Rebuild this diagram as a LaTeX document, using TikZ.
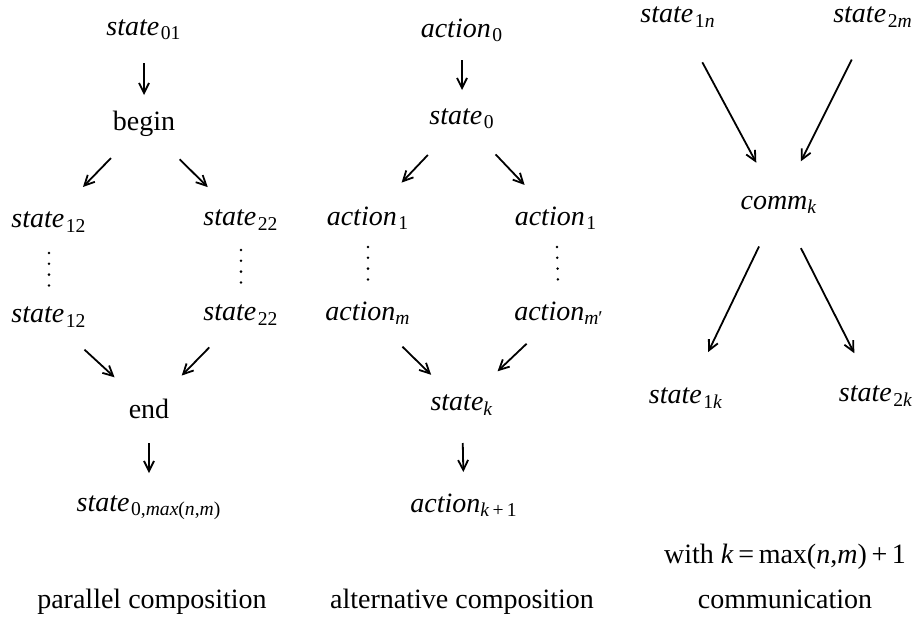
\documentclass[tikz,border=0pt]{standalone}
\usepackage{fontspec}
\setmainfont{Liberation Serif}
\usetikzlibrary{arrows.meta}
\tikzset{>={Straight Barb[length=5pt,width=5pt]}}
\newcommand{\STATE}[1]{\textit{state}\kern0.8pt\textsubscript{#1}}
\newcommand{\ACTION}[1]{\textit{action}\kern0.8pt\textsubscript{#1}}

\begin{document}
\begin{tikzpicture}[x=0.5pt,y=-0.5pt,
  lbl/.style={inner sep=0pt, font=\fontsize{14}{17}\selectfont},
  caption/.style={lbl, anchor=base},
  flow/.style={->, line width=0.9pt},
  vdots/.style={line width=1.4pt, line cap=round, dash pattern=on 0pt off 5.4pt}]
\useasboundingbox (0,0) rectangle (915,616);

% parallel composition
\node[lbl] (s01)   at (144, 30) {\STATE{01}};
\node[lbl] (begin) at (144,124) {begin};
\node[lbl] (s12a)  at ( 49,222) {\STATE{12}};
\node[lbl] (s22a)  at (241,220) {\STATE{22}};
\node[lbl] (s12b)  at ( 49,317) {\STATE{12}};
\node[lbl] (s22b)  at (241,315) {\STATE{22}};
\node[lbl] (end)   at (149,409) {end};
\node[lbl] (s0max) at (149,508) {\STATE{0,\textit{max}(\textit{n},\textit{m})}};
\node[caption] (parcomp) at (152,608) {parallel composition};

\draw[flow, shorten <=16.5pt, shorten >=14.5pt] (s01.center) -- (begin.center);
\draw[flow, shorten <=23.7pt, shorten >=24.4pt] (begin.center) -- (s12a.center);
\draw[flow, shorten <=25.1pt, shorten >=23.4pt] (begin.center) -- (s22a.center);
\draw[vdots, shorten <=15.5pt, shorten >=15pt] (s12a.center) -- (s12b.center);
\draw[vdots, shorten <=15pt, shorten >=15.5pt] (s22a.center) -- (s22b.center);
\draw[flow, shorten <=24.1pt, shorten >=23.4pt] (s12b.center) -- (end.center);
\draw[flow, shorten <=22.7pt, shorten >=23.4pt] (s22b.center) -- (end.center);
\draw[flow, shorten <=17pt, shorten >=17.5pt] (end.center) -- (s0max.center);

% alternative composition
\node[lbl] (a0)  at (462, 30) {\ACTION{0}};
\node[lbl] (s0)  at (462,119) {\STATE{0}};
\node[lbl] (a1L) at (368,218) {\ACTION{1}};
\node[lbl] (a1R) at (556,218) {\ACTION{1}};
\node[lbl] (amL) at (368,313) {\textit{action}\textsubscript{\textit{m}}};
\node[lbl] (amR) at (559,313) {\textit{action}\textsubscript{\textit{m}′}};
\node[lbl] (sk)  at (462,405) {\textit{state}\textsubscript{\textit{k}}};
\node[lbl] (ak1) at (464,505) {\textit{action}\textsubscript{\textit{k}\,+\,1}};
\node[caption] (altcomp) at (462,608) {alternative composition};

\draw[flow, shorten <=15pt, shorten >=14.5pt] (a0.center) -- (s0.center);
\draw[flow, shorten <=24.8pt, shorten >=24.4pt] (s0.center) -- (a1L.center);
\draw[flow, shorten <=24.4pt, shorten >=22.8pt] (s0.center) -- (a1R.center);
\draw[vdots, shorten <=14.5pt, shorten >=15.5pt] (a1L.center) -- (amL.center);
\draw[vdots, shorten <=14.5pt, shorten >=16pt] (a1R.center) -- (amR.center);
\draw[flow, shorten <=24.1pt, shorten >=21.6pt] (amL.center) -- (sk.center);
\draw[flow, shorten <=22.3pt, shorten >=24.5pt] (amR.center) -- (sk.center);
\draw[flow, shorten <=19pt, shorten >=16.5pt] (sk.center) -- (ak1.center);

% communication
\node[lbl] (s1n)  at (678, 17) {\STATE{1\textit{n}}};
\node[lbl] (s2m)  at (873, 17) {\STATE{2\textit{m}}};
\node[lbl] (comm) at (779,205) {\textit{comm}\textsubscript{\textit{k}}};
\node[lbl] (s1k)  at (686,398) {\STATE{1\textit{k}}};
\node[lbl] (s2k)  at (876,396) {\STATE{2\textit{k}}};
\node[caption] (withk) at (785,563) {with \textit{k}\,=\,max(\textit{n},\textit{m})\,+\,1};
\node[caption] (commcap) at (785,608) {communication};

\draw[flow, shorten <=25.7pt, shorten >=24pt] (s1n.center) -- (comm.center);
\draw[flow, shorten <=23.8pt, shorten >=24.4pt] (s2m.center) -- (comm.center);
\draw[flow, shorten <=23pt, shorten >=25.5pt] (comm.center) -- (s1k.center);
\draw[flow, shorten <=24.2pt, shorten >=24pt] (comm.center) -- (s2k.center);
\end{tikzpicture}
\end{document}
